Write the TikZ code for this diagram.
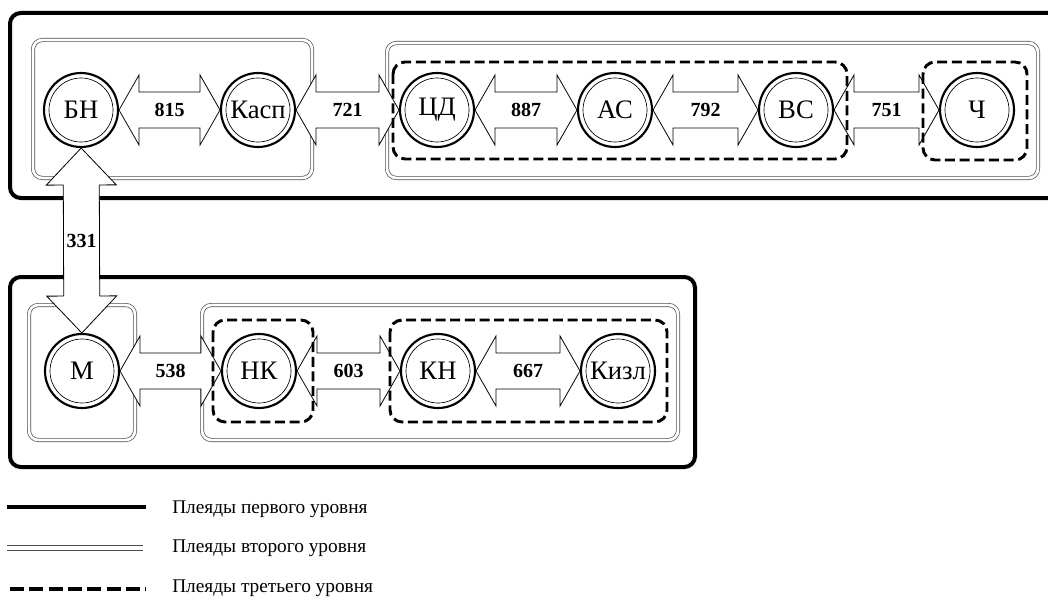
\documentclass[tikz,border=0pt]{standalone}
\usepackage{fontspec}
\setmainfont{Liberation Serif}
\usetikzlibrary{calc}

% hollow double-headed arrow between two circles, label in the middle
\newcommand{\pleiadlink}[4][15pt]{%
  \coordinate (fa) at ($(#2.center)!28.5pt!(#3.center)$);
  \coordinate (fb) at ($(#3.center)!28.5pt!(#2.center)$);
  \coordinate (ha) at ($(fa)!#1!(fb)$);
  \coordinate (hb) at ($(fb)!#1!(fa)$);
  \draw[fat] (fa) -- ($(ha)!26.25pt!90:(fb)$) -- ($(ha)!13.5pt!90:(fb)$)
    -- ($(hb)!13.5pt!-90:(fa)$) -- ($(hb)!26.25pt!-90:(fa)$) -- (fb)
    -- ($(hb)!26.25pt!90:(fa)$) -- ($(hb)!13.5pt!90:(fa)$)
    -- ($(ha)!13.5pt!-90:(fb)$) -- ($(ha)!26.25pt!-90:(fb)$) -- cycle;
  \node[weight] (#2-#3) at ($(fa)!0.5!(fb)$) {#4};
}

\begin{document}
\begin{tikzpicture}[
    x=0.75pt, y=-0.75pt,
    station/.style={
        circle,
        draw,
        line width=1.6pt,
        fill=white,
        minimum size=55.5pt,
        inner sep=0pt,
        font=\fontsize{20}{22}\selectfont,
        path picture={\draw[line width=0.5pt] (path picture bounding box.center) circle (24pt);}
    },
    level1/.style={line width=3pt, rounded corners=8pt},
    level2/.style={draw=black!70, double, double distance=2pt, line width=0.5pt, rounded corners=7pt},
    level3/.style={line width=2.2pt, dash pattern=on 7.5pt off 3.5pt, rounded corners=9pt},
    fat/.style={draw, fill=white, line width=0.6pt, line join=miter},
    weight/.style={font=\bfseries\fontsize{15}{17}\selectfont},
    legend/.style={anchor=west, inner sep=0pt, font=\fontsize{14.5}{17}\selectfont}
]
\clip (0,0) rectangle (1048,599);

% first level
\draw[level1] (10,13) rectangle (1075,198);
\draw[level1] (10,277) rectangle (695,467);

% second level
\draw[level2] (33,40) rectangle (312,178);
\draw[level2] (387,43) rectangle (1038,178);
\draw[level2] (29,305) rectangle (135,440);
\draw[level2] (202,305) rectangle (678,440);

\node[station] (bn) at (81,110) {БН};
\node[station] (kasp) at (258,110) {Касп};
\node[station] (cd) at (437,110) {ЦД};
\node[station] (as) at (615,110) {АС};
\node[station] (vs) at (796,110) {ВС};
\node[station] (ch) at (977,110) {Ч};

\node[station] (m) at (82,371) {М};
\node[station] (nk) at (259,371) {НК};
\node[station] (kn) at (438,371) {КН};
\node[station] (kizl) at (618,371) {Кизл};

\pleiadlink{bn}{kasp}{815}
\pleiadlink{kasp}{cd}{721}
\pleiadlink{cd}{as}{887}
\pleiadlink{as}{vs}{792}
\pleiadlink{vs}{ch}{751}
\pleiadlink[27.75pt]{bn}{m}{331}
\pleiadlink{m}{nk}{538}
\pleiadlink{nk}{kn}{603}
\pleiadlink{kn}{kizl}{667}

% third level
\draw[level3] (393,62) rectangle (847,159);
\draw[level3] (923,62) rectangle (1027,160);
\draw[level3] (213,320) rectangle (313,422);
\draw[level3] (390,320) rectangle (667,422);

% legend
\draw[line width=3pt] (7,507) -- (146,507);
\node[legend] (l1) at (172,509) {Плеяды первого уровня};
\draw[draw=black!70, double, double distance=3.5pt, line width=0.6pt] (7,548) -- (143,548);
\node[legend] (l2) at (172,548) {Плеяды второго уровня};
\draw[line width=3pt, dash pattern=on 10.5pt off 4pt] (10,589) -- (146,589);
\node[legend] (l3) at (172,588) {Плеяды третьего уровня};

\end{tikzpicture}
\end{document}
